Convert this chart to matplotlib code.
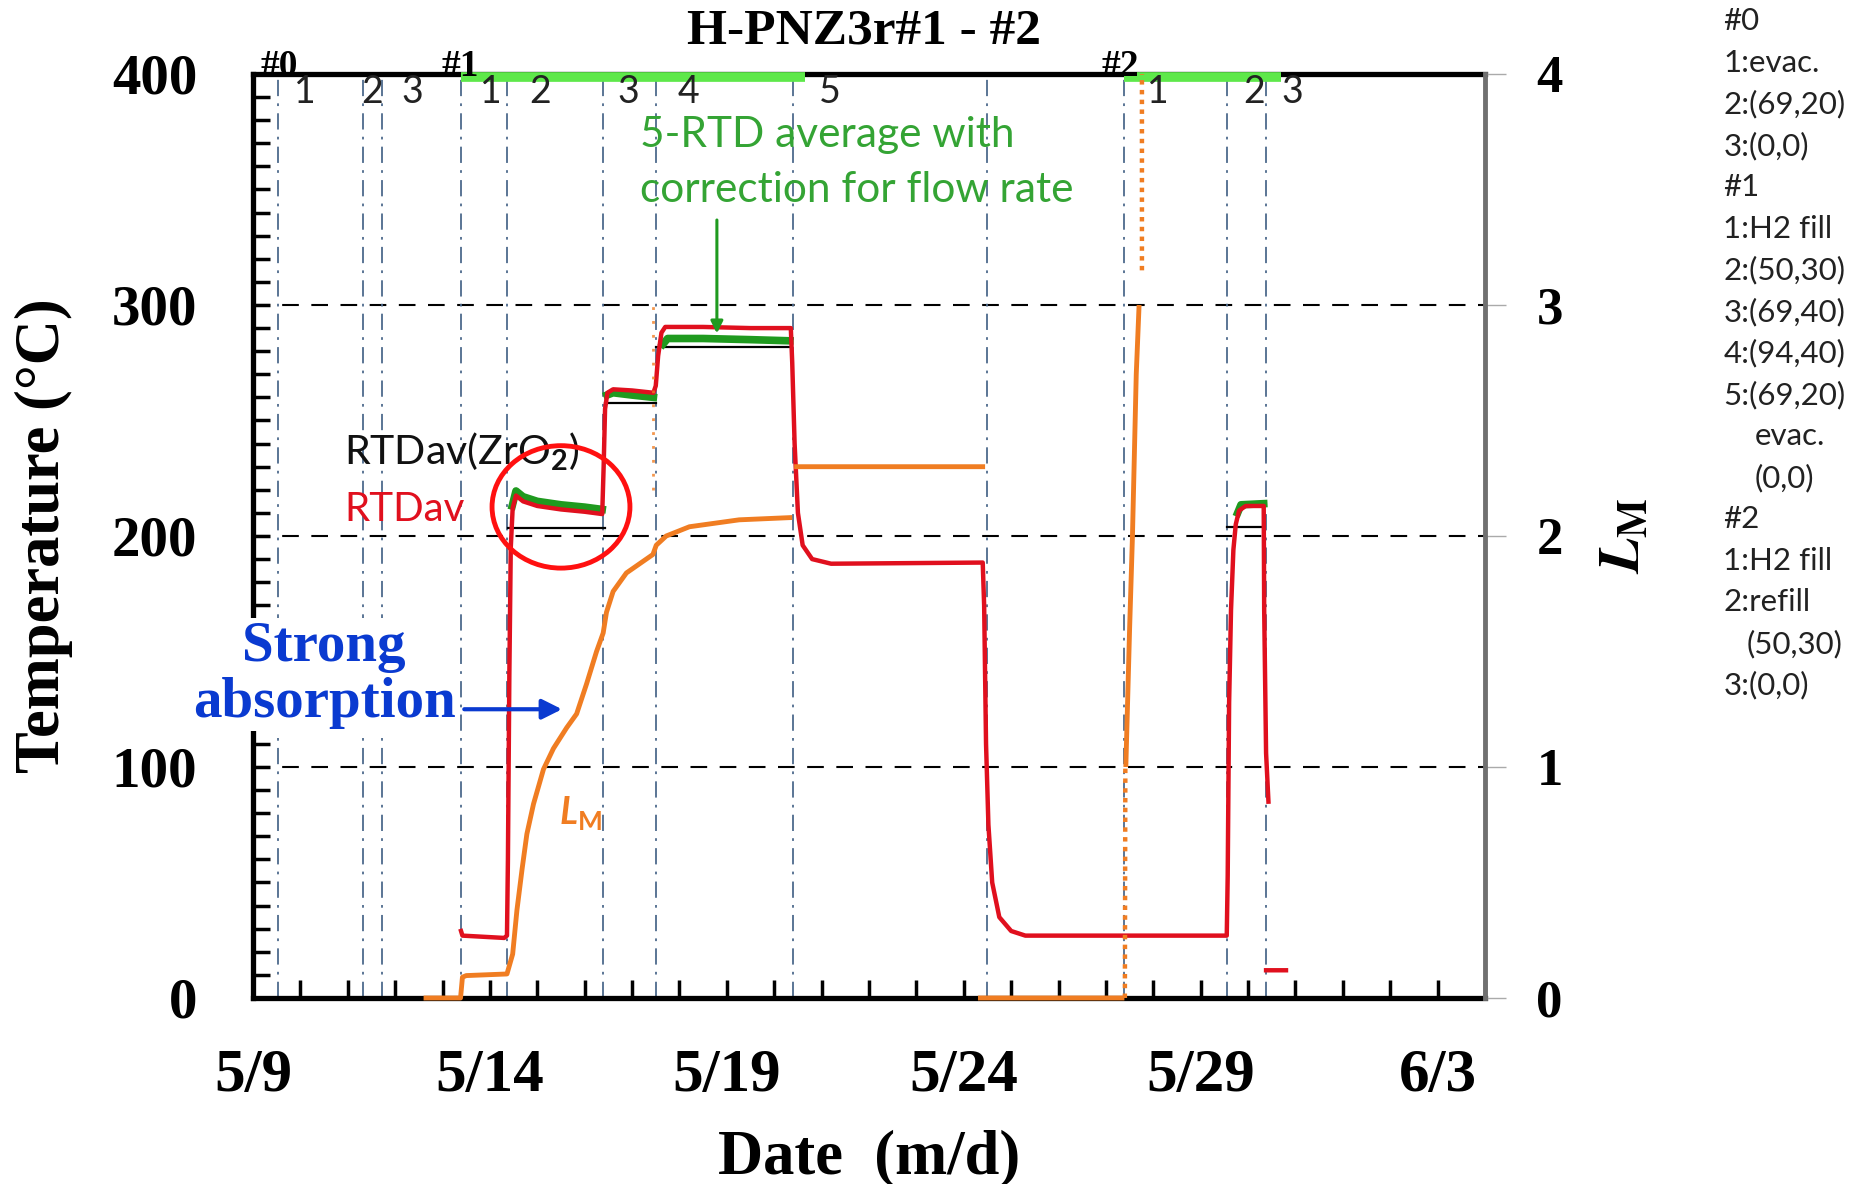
import matplotlib
matplotlib.use("Agg")
import matplotlib.pyplot as plt
from matplotlib.patches import Ellipse
import numpy as np

nan = np.nan
SERIF = 'Liberation Serif'
SANS = 'Lato'
plt.rcParams['font.family'] = SERIF
plt.rcParams['font.weight'] = 'bold'
plt.rcParams['mathtext.fontset'] = 'custom'
plt.rcParams['mathtext.rm'] = 'Lato'
plt.rcParams['mathtext.it'] = 'Lato:italic'

# x values are day of May (34 = 6/3)
date_ticks = [9, 14, 19, 24, 29, 34]
date_labels = ['5/9', '5/14', '5/19', '5/24', '5/29', '6/3']

# RTDav (red), degC
red_day = [13.39, 13.42, 14.30, 14.36, 14.38, 14.41, 14.44, 14.48, 14.55, 14.7, 15.0, 15.5, 16.0, 16.37,
           16.40, 16.43, 16.48, 16.6, 17.0, 17.45, 17.5, 17.55, 17.62, 17.7, 18.5, 19.5, 20.35,
           20.38, 20.43, 20.5, 20.6, 20.8, 21.2, 24.4, 24.43, 24.47, 24.52, 24.6, 24.75, 25.0, 25.3,
           29.55, 29.57, 29.6, 29.64, 29.69, 29.74, 29.81, 29.95, 30.33, 30.34, 30.38, 30.43,
           nan, 30.38, 30.8]
red_temp = [29, 27, 26, 27, 60, 140, 195, 212, 217.5, 215, 213, 211.5, 210.5, 209.5,
            230, 255, 262, 263.5, 263, 262, 265, 278, 288, 290.5, 290.5, 290, 290,
            275, 240, 210, 196, 190, 188, 188.5, 170, 110, 75, 50, 35, 29, 27,
            27, 53, 128, 168, 194, 205, 211, 213, 213, 168, 106, 85,
            nan, 12, 12]

# 5-RTD average with correction for flow rate (green)
grn_day = [14.47, 14.55, 14.7, 15.0, 15.5, 16.0, 16.37, nan,
           16.47, 16.6, 17.0, 17.45, nan,
           17.65, 17.75, 18.5, 19.5, 20.33, nan,
           29.78, 29.85, 30.33]
grn_temp = [213, 219.5, 217, 215, 213.5, 212.5, 211.5, nan,
            261, 262, 261, 260, nan,
            283, 285.5, 285.5, 285, 284.5, nan,
            210, 213.5, 214]

# RTDav(ZrO2) (black)
zr_day = [14.38, 16.42, nan, 16.42, 17.5, nan, 17.5, 20.35, nan, 29.56, 30.33]
zr_temp = [203.6, 203.6, nan, 257.4, 257.4, nan, 282, 282, nan, 204, 204]

# L_M (orange, right axis)
lm_day = [12.6, 13.38, 13.42, 13.5, 14.36, 14.48, 14.57, 14.68, 14.78, 14.92, 15.13, 15.34, 15.62,
          15.83, 16.04, 16.25, 16.39, 16.46, 16.6, 16.88, 17.23, 17.44, 17.51, 17.72, 18.21,
          18.91, 19.26, 20.38, nan,
          20.42, 24.45, nan,
          24.3, 27.39, nan,
          27.42, 27.5, 27.56, 27.6, 27.64, 27.7]
lm_val = [0, 0, 0.09, 0.097, 0.104, 0.19, 0.38, 0.56, 0.71, 0.84, 0.99, 1.08, 1.17,
          1.23, 1.36, 1.50, 1.58, 1.67, 1.76, 1.84, 1.89, 1.92, 1.96, 2.0, 2.04,
          2.06, 2.07, 2.08, nan,
          2.30, 2.30, nan,
          0, 0, nan,
          1.0, 1.6, 2.0, 2.35, 2.7, 3.0]
lm_dot_day = [27.40, 27.41, nan, 27.76, 27.76]
lm_dot_val = [0.0, 1.0, nan, 3.15, 4.0]
lm_spot_day = [17.45, 17.45]
lm_spot_val = [2.2, 3.0]

# events
event_days = [9.53, 11.32, 11.72, 13.39, 14.36, 16.39, 17.5, 20.4, 24.5, 27.39, 29.56, 30.38]
run_names = ['#0', '#1', '#2']
run_days = [9.55, 13.37, 27.31]
step_labels = ['1', '2', '3', '1', '2', '3', '4', '5', '1', '2', '3']
step_days = [10.1, 11.51, 12.36, 14.02, 15.07, 16.93, 18.19, 21.17, 28.1, 30.13, 30.93]
h2_start = [13.39, 27.39]
h2_end = [20.65, 30.7]

notes = ['#0', '1:evac.', '2:(69,20)', '3:(0,0)', '#1', '1:H2 fill', '2:(50,30)', '3:(69,40)',
         '4:(94,40)', '5:(69,20)', 'evac.', '(0,0)', '#2', '1:H2 fill', '2:refill', '(50,30)', '3:(0,0)']
note_indent = [0, 0, 0, 0, 0, 0, 0, 0, 0, 0, 1, 1, 0, 0, 0, 0.75, 0]

RED = '#e0101e'
GREEN = '#1f9a1f'
ORANGE = '#f07d22'
BLUE = '#0a3ad0'

fig = plt.figure(figsize=(18.63, 11.84), dpi=100)
ax = fig.add_axes([0.1358, 0.1571, 0.6613, 0.7804])
ax2 = ax.twinx()

ax.set_xlim(9, 35)
ax.set_ylim(0, 400)
ax2.set_ylim(0, 4)

# grid and event lines
for v in [100, 200, 300]:
    ax.axhline(v, color='black', lw=1.5, ls=(0, (8, 6)), zorder=1)
for d in event_days:
    ax.axvline(d, color='#4d6a8c', lw=1.3, ls=(0, (9, 4, 1.5, 4)), zorder=1)

ax.plot(zr_day, zr_temp, color='black', lw=1.6, zorder=2)
ax.plot(grn_day, grn_temp, color=GREEN, lw=5.5, zorder=3)
ax.plot(red_day, red_temp, color=RED, lw=3.2, zorder=3.5)
ax2.plot(lm_day, lm_val, color=ORANGE, lw=3.5, clip_on=False, solid_capstyle='butt')
ax2.plot(lm_dot_day, lm_dot_val, color=ORANGE, lw=3.2, ls=(0, (1, 1.2)))
ax2.plot(lm_spot_day, lm_spot_val, color=ORANGE, lw=2, ls=(0, (1, 4)), alpha=0.8)

ax.hlines([398.5] * len(h2_start), h2_start, h2_end, color='#5ee84a', lw=7, zorder=4, clip_on=False)

# axes styling
for s in ['left', 'bottom', 'top']:
    ax.spines[s].set_linewidth(3.8)
    ax.spines[s].set_color('black')
ax.spines['right'].set_visible(False)
for s in ['left', 'bottom', 'top']:
    ax2.spines[s].set_visible(False)
ax2.spines['right'].set_color('#707070')
ax2.spines['right'].set_linewidth(3.5)

ax.set_xticks(date_ticks)
ax.set_xticklabels(date_labels)
ax.set_xticks(np.arange(9, 36), minor=True)
ax.set_yticks(range(0, 401, 100))
ax.set_yticks(range(0, 401, 10), minor=True)
ax.tick_params(axis='x', which='both', direction='in', length=13, width=2.5, top=False, pad=36, labelsize=44)
ax.tick_params(axis='y', which='both', direction='in', length=12, width=2.5, right=False, pad=40, labelsize=41)
ax2.set_yticks([0, 1, 2, 3, 4])
ax2.tick_params(axis='y', direction='out', length=15, width=1, color='#aaaaaa', pad=22, labelsize=38)

ax.set_xlabel('Date  (m/d)', fontsize=45, fontweight='bold', labelpad=18)
ax.set_ylabel('Temperature (\u00b0C)', fontsize=45, fontweight='bold')
ax.yaxis.set_label_coords(-0.146, 0.5)
ax2.set_ylabel(r'$\mathit{L}_\mathrm{M}$', fontsize=42, math_fontfamily='stix', rotation=90)
ax2.yaxis.set_label_coords(1.093, 0.5)

fig.text(0.464, 0.973, 'H-PNZ3r#1 - #2', ha='center', va='center', fontsize=37)

# event labels on the top axis
for name, d in zip(run_names, run_days):
    ax.text(d, 399, name, ha='center', va='baseline', fontsize=27, zorder=5)
for lab, d in zip(step_labels, step_days):
    ax.text(d, 392, lab, ha='center', va='center', fontsize=27, fontfamily=SANS,
            fontweight='normal', color='#222222', zorder=5)

# annotations
ax.text(10.93, 236.5, r'RTDav(ZrO$_2$)', fontsize=29.5, fontfamily=SANS, fontweight='normal',
        color='#111111', va='center', ha='left')
ax.text(10.93, 211.5, 'RTDav', fontsize=29, fontfamily=SANS, fontweight='normal',
        color=RED, va='center', ha='left')
ax.add_patch(Ellipse((15.5, 212.6), 2.91, 53, fill=False, ec='#ff1010', lw=3.5, zorder=4))

ax.text(17.16, 373.8, '5-RTD average with', fontsize=30.5, fontfamily=SANS, fontweight='normal',
        color='#34a434', va='center', ha='left')
ax.text(17.16, 349.6, 'correction for flow rate', fontsize=30.5, fontfamily=SANS, fontweight='normal',
        color='#34a434', va='center', ha='left')
ax.annotate('', xy=(18.79, 286.5), xytext=(18.79, 338),
            arrowprops=dict(arrowstyle='-|>', color=GREEN, lw=2.2, mutation_scale=18), zorder=5)

ax2.text(10.5, 140, 'Strong\nabsorption', transform=ax.transData, ha='center', va='center',
         fontsize=41, color=BLUE, linespacing=1.1, zorder=6,
         bbox=dict(boxstyle='square,pad=0.05', fc='white', ec='none'))
ax2.annotate('', xy=(15.58, 125), xytext=(13.4, 125), xycoords=ax.transData, textcoords=ax.transData,
             arrowprops=dict(arrowstyle='-|>', color=BLUE, lw=3, mutation_scale=30), zorder=6)
ax2.text(15.9, 0.80, r'$\mathit{L}_\mathrm{M}$', ha='center', va='center', fontsize=27,
         color=ORANGE, fontweight='normal')

# run conditions listed at the right
for k, (line, ind) in enumerate(zip(notes, note_indent)):
    fig.text(0.925 + ind * 0.017, 0.982 - k * 41.5 / 1184, line, ha='left', va='center',
             fontsize=22.5, fontfamily=SANS, fontweight='normal', color='#222222')

fig.savefig('out.png', dpi=100)
